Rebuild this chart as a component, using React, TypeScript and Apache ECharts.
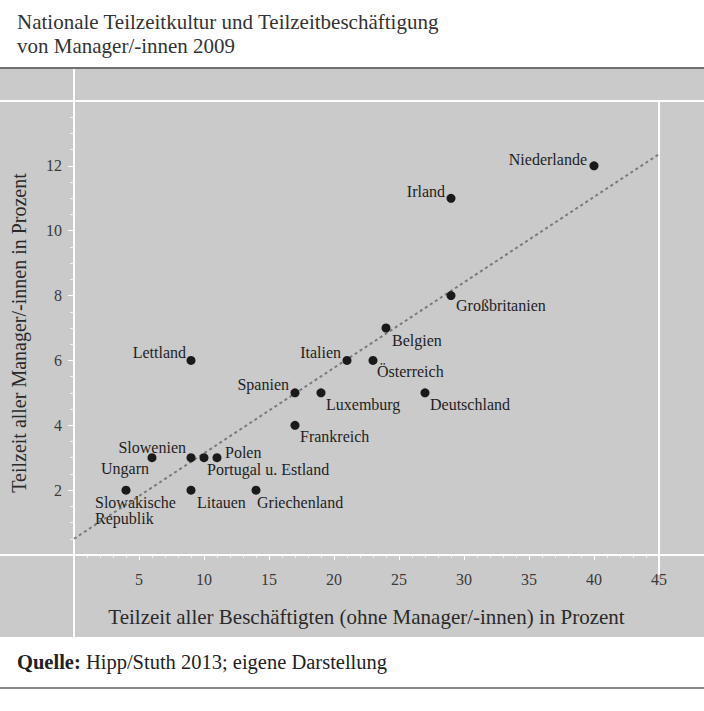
import React, { useEffect, useRef } from "react";
import * as echarts from "echarts";

const countries = [
  "Niederlande", "Irland", "Großbritanien", "Belgien", "Italien", "Österreich",
  "Deutschland", "Luxemburg", "Spanien", "Frankreich", "Lettland", "Slowenien",
  "Ungarn", "Polen", "Portugal u. Estland", "Slowakische\nRepublik", "Litauen", "Griechenland",
];
const teilzeitAlle = [40, 29, 29, 24, 21, 23, 27, 19, 17, 17, 9, 9, 6, 11, 10, 4, 9, 14];
const teilzeitManager = [12, 11, 8, 7, 6, 6, 5, 5, 5, 4, 6, 3, 3, 3, 3, 2, 2, 2];
const trendX = [0, 45];
const trendY = [0.5, 12.36];
const xTicks = [5, 10, 15, 20, 25, 30, 35, 40, 45];
const yTicks = [2, 4, 6, 8, 10, 12];

// label placement: [align, dx, dy] relative to the dot centre
const labelPlacement: Record<string, [string, number, number]> = {
  "Niederlande": ["right", -7, -6],
  "Irland": ["right", -6, -7],
  "Großbritanien": ["left", 5, 10],
  "Belgien": ["left", 6, 12],
  "Italien": ["right", -6, -8],
  "Österreich": ["left", 4, 11],
  "Deutschland": ["left", 5, 12],
  "Luxemburg": ["left", 5, 12],
  "Spanien": ["right", -6, -8],
  "Frankreich": ["left", 5, 11],
  "Lettland": ["right", -5, -8],
  "Slowenien": ["right", -5, -10],
  "Ungarn": ["right", -3, 11],
  "Polen": ["left", 8, -5],
  "Portugal u. Estland": ["left", 3, 12],
  "Slowakische\nRepublik": ["left", -31, 20],
  "Litauen": ["left", 6, 12],
  "Griechenland": ["left", 1, 12],
};

const FONT = "Liberation Serif";
const SYM = 9;

export default function App() {
  const ref = useRef<HTMLDivElement>(null);
  useEffect(() => {
    document.body.style.margin = "0";
    const chart = echarts.init(ref.current!, null, { renderer: "svg" });
    const pts = countries.map((c, i) => {
      const [align, dx, dy] = labelPlacement[c];
      return {
        name: c,
        value: [teilzeitAlle[i], teilzeitManager[i]],
        label: {
          show: true,
          formatter: c,
          position: [SYM / 2 + dx, SYM / 2 + dy],
          align,
          verticalAlign: "middle",
          lineHeight: 16,
        },
      };
    });
    const option: any = {
      animation: false,
      backgroundColor: "#ffffff",
      grid: { left: 74, right: 45, top: 101, bottom: 156, containLabel: false },
      xAxis: {
        type: "value",
        min: 0,
        max: 45,
        interval: 5,
        name: "Teilzeit aller Beschäftigten (ohne Manager/-innen) in Prozent",
        nameLocation: "middle",
        nameGap: 51,
        nameTextStyle: { fontFamily: FONT, fontSize: 21, color: "#2a2a2a" },
        axisLine: { show: true, lineStyle: { color: "#ffffff", width: 2 } },
        axisTick: { show: true, length: 5, lineStyle: { color: "#ffffff", width: 1 } },
        minorTick: { show: true, splitNumber: 5, length: 3, lineStyle: { color: "#f2f2f2", width: 1 } },
        splitLine: { show: false },
        axisLabel: {
          showMinLabel: false,
          margin: 16,
          fontFamily: FONT,
          fontSize: 16,
          color: "#3a3a3a",
          formatter: (v: number) => (xTicks.includes(v) ? String(v) : ""),
        },
      },
      yAxis: {
        type: "value",
        min: 0,
        max: 14,
        interval: 2,
        axisLine: { show: true, lineStyle: { color: "#ffffff", width: 2 } },
        axisTick: { show: true, length: 6, lineStyle: { color: "#ffffff", width: 1 } },
        minorTick: { show: true, splitNumber: 4, length: 4, lineStyle: { color: "#f2f2f2", width: 1 } },
        splitLine: { show: false },
        axisLabel: {
          showMinLabel: false,
          showMaxLabel: false,
          margin: 12,
          fontFamily: FONT,
          fontSize: 16,
          color: "#3a3a3a",
          formatter: (v: number) => (yTicks.includes(v) ? String(v) : ""),
        },
      },
      graphic: [
        { type: "rect", z: -10, silent: true, shape: { x: 0, y: 69, width: 704, height: 568 }, style: { fill: "#cacaca" } },
        { type: "line", z: -5, shape: { x1: 0, y1: 68, x2: 704, y2: 68 }, style: { stroke: "#707070", lineWidth: 2 } },
        { type: "line", z: -5, shape: { x1: 0, y1: 101, x2: 704, y2: 101 }, style: { stroke: "#ffffff", lineWidth: 2 } },
        { type: "line", z: -5, shape: { x1: 0, y1: 555, x2: 704, y2: 555 }, style: { stroke: "#ffffff", lineWidth: 2 } },
        { type: "line", z: -5, shape: { x1: 74, y1: 69, x2: 74, y2: 637 }, style: { stroke: "#ffffff", lineWidth: 2 } },
        { type: "line", z: -5, shape: { x1: 659, y1: 101, x2: 659, y2: 575 }, style: { stroke: "#ffffff", lineWidth: 2 } },
        { type: "line", z: -5, shape: { x1: 0, y1: 688, x2: 704, y2: 688 }, style: { stroke: "#8a8a8a", lineWidth: 2 } },
        {
          type: "text", x: 17, y: 22,
          style: { text: "Nationale Teilzeitkultur und Teilzeitbeschäftigung", font: `21px "${FONT}"`, fill: "#333333", verticalAlign: "middle" },
        },
        {
          type: "text", x: 17, y: 46,
          style: { text: "von Manager/-innen 2009", font: `21px "${FONT}"`, fill: "#333333", verticalAlign: "middle" },
        },
        {
          type: "text", x: 19, y: 333, rotation: Math.PI / 2,
          style: { text: "Teilzeit aller Manager/-innen in Prozent", font: `20px "${FONT}"`, fill: "#2a2a2a", align: "center", verticalAlign: "middle" },
        },
        {
          type: "text", x: 17, y: 662,
          style: {
            text: "{b|Quelle:} Hipp/Stuth 2013; eigene Darstellung",
            font: `20.5px "${FONT}"`,
            fill: "#222222",
            verticalAlign: "middle",
            rich: { b: { fontWeight: "bold", fontFamily: FONT, fontSize: 20.5, fill: "#222222" } },
          },
        },
      ],
      series: [
        {
          type: "line",
          data: trendX.map((x, i) => [x, trendY[i]]),
          symbol: "none",
          lineStyle: { color: "#7a7a7a", width: 2, type: [3, 3] },
          silent: true,
          z: 1,
        },
        {
          type: "scatter",
          data: pts,
          symbol: "circle",
          symbolSize: SYM,
          itemStyle: { color: "#1a1a1a", opacity: 1 },
          label: { fontFamily: FONT, fontSize: 16, color: "#1e1e1e" },
          z: 3,
        },
      ],
    };
    chart.setOption(option);
    return () => chart.dispose();
  }, []);
  return <div ref={ref} style={{ width: 704, height: 711 }} />;
}
